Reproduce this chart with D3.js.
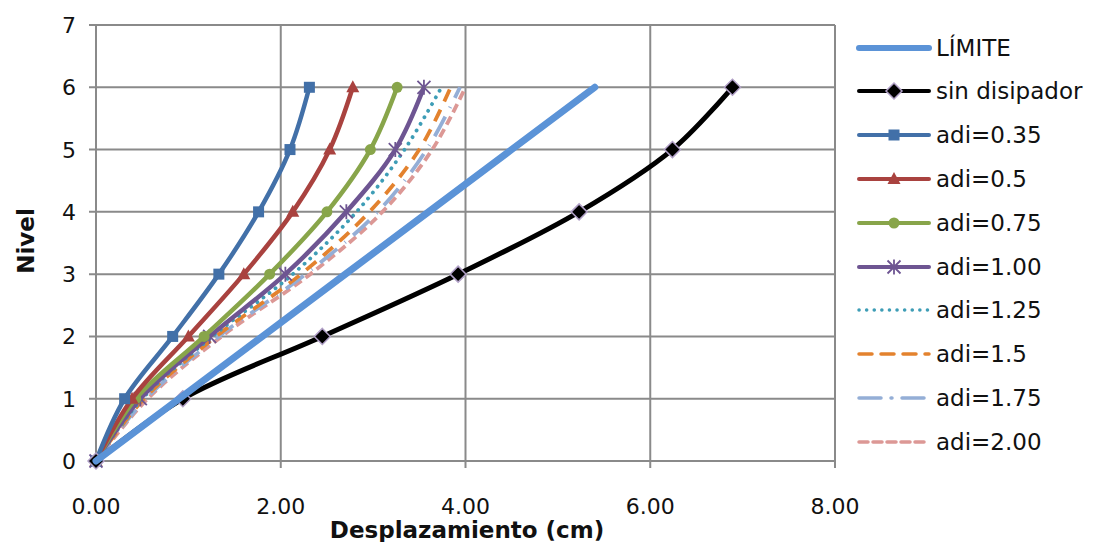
<!DOCTYPE html>
<html><head><meta charset="utf-8">
<script src="https://cdn.jsdelivr.net/npm/d3@7"></script>
<style>body{margin:0;background:#fff;} text{font-family:"DejaVu Sans",sans-serif;}</style>
</head><body>
<svg id="c" width="1097" height="542"></svg>
<script>
const levels = [0,1,2,3,4,5,6];
const xTicks = [0,2,4,6,8];
const yTicks = [0,1,2,3,4,5,6,7];
const limite = [0,0.9,1.8,2.7,3.6,4.5,5.4];
const sinDisipador = [0,0.94,2.45,3.92,5.23,6.24,6.89];
const adi035 = [0,0.31,0.83,1.33,1.76,2.10,2.31];
const adi050 = [0,0.39,1.0,1.60,2.13,2.53,2.78];
const adi075 = [0,0.43,1.17,1.88,2.50,2.97,3.26];
const adi100 = [0,0.48,1.23,2.05,2.71,3.24,3.55];
const adi125 = [0,0.50,1.26,2.13,2.82,3.34,3.74];
const adi150 = [0,0.52,1.30,2.22,2.96,3.50,3.84];
const adi175 = [0,0.54,1.33,2.27,3.05,3.58,3.94];
const adi200 = [0,0.56,1.36,2.32,3.10,3.64,4.00];
const seriesNames = ["LÍMITE","sin disipador","adi=0.35","adi=0.5","adi=0.75","adi=1.00","adi=1.25","adi=1.5","adi=1.75","adi=2.00"];

const series = [
 {name:seriesNames[0], vals:limite, color:"#5b93d7", w:7, dash:null, marker:null, smooth:false},
 {name:seriesNames[1], vals:sinDisipador, color:"#000000", w:5, dash:null, marker:"diamond"},
 {name:seriesNames[2], vals:adi035, color:"#4270a8", w:4.5, dash:null, marker:"square"},
 {name:seriesNames[3], vals:adi050, color:"#a9423f", w:4.5, dash:null, marker:"triangle"},
 {name:seriesNames[4], vals:adi075, color:"#88a54a", w:4.5, dash:null, marker:"circle"},
 {name:seriesNames[5], vals:adi100, color:"#6e5592", w:4.5, dash:null, marker:"star"},
 {name:seriesNames[6], vals:adi125, color:"#3e9db6", w:3.8, dash:"0.1,7.5", cap:"round", marker:null},
 {name:seriesNames[7], vals:adi150, color:"#e3822e", w:3.8, dash:"13,9", marker:null},
 {name:seriesNames[8], vals:adi175, color:"#94aed6", w:3.8, dash:"22,10,1,10", marker:null},
 {name:seriesNames[9], vals:adi200, color:"#dc9895", w:3.8, dash:"9,5", marker:null}
];

const svg = d3.select("#c");
const L=96, R=835, T=25, B=461;
const x = d3.scaleLinear().domain([0,8]).range([L,R]);
const y = d3.scaleLinear().domain([0,7]).range([B,T]);
const grid = "#8a8a8a";

svg.append("g").selectAll("line").data(yTicks).join("line")
  .attr("x1",L-7).attr("x2",R).attr("y1",d=>y(d)).attr("y2",d=>y(d))
  .attr("stroke",grid).attr("stroke-width",2);
svg.append("g").selectAll("line").data(xTicks).join("line")
  .attr("x1",d=>x(d)).attr("x2",d=>x(d)).attr("y1",T).attr("y2",B+7)
  .attr("stroke",grid).attr("stroke-width",2);

svg.append("g").selectAll("text").data(yTicks).join("text")
  .attr("x",76).attr("y",d=>y(d)+8).attr("text-anchor","end")
  .attr("font-size",22).attr("fill","#111").text(d=>d);
svg.append("g").selectAll("text").data(xTicks).join("text")
  .attr("x",d=>x(d)).attr("y",514).attr("text-anchor","middle")
  .attr("font-size",22).attr("fill","#111").text(d=>d3.format(".2f")(d));

svg.append("text").attr("x",467).attr("y",538).attr("text-anchor","middle")
  .attr("font-size",23).attr("font-weight","bold").attr("fill","#111").text("Desplazamiento (cm)");
svg.append("text").attr("transform","translate(34,241) rotate(-90)").attr("text-anchor","middle")
  .attr("font-size",23).attr("font-weight","bold").attr("fill","#111").text("Nivel");

const line = d3.line().x(d=>x(d[0])).y(d=>y(d[1])).curve(d3.curveCatmullRom.alpha(0.5));
const straight = d3.line().x(d=>x(d[0])).y(d=>y(d[1]));

function drawMarker(g, type, cx, cy, s){
  if(type==="diamond"){
    g.append("path").attr("d",`M${cx},${cy-8}L${cx+8},${cy}L${cx},${cy+8}L${cx-8},${cy}Z`)
     .attr("fill","#000").attr("stroke","#b1a0c7").attr("stroke-width",1.5);
  } else if(type==="square"){
    g.append("rect").attr("x",cx-5.5).attr("y",cy-5.5).attr("width",11).attr("height",11).attr("fill",s.color);
  } else if(type==="triangle"){
    g.append("path").attr("d",`M${cx},${cy-7}L${cx+6.5},${cy+5}L${cx-6.5},${cy+5}Z`).attr("fill",s.color);
  } else if(type==="circle"){
    g.append("circle").attr("cx",cx).attr("cy",cy).attr("r",5.5).attr("fill",s.color);
  } else if(type==="star"){
    const r=6.5;
    g.append("path").attr("d",`M${cx-r},${cy-r}L${cx+r},${cy+r}M${cx-r},${cy+r}L${cx+r},${cy-r}M${cx},${cy-r-1}L${cx},${cy+r+1}`)
     .attr("stroke",s.color).attr("stroke-width",1.8).attr("fill","none");
  }
}

series.slice().reverse().forEach((s,ri)=>{
  const i = series.length-1-ri;
  const pts = levels.map((lv,k)=>[s.vals[k],lv]);
  const g = svg.append("g");
  g.append("path").attr("d",(s.smooth===false?straight:line)(pts))
   .attr("fill","none").attr("stroke",s.color).attr("stroke-width",s.w)
   .attr("stroke-dasharray",s.dash).attr("stroke-linecap",s.cap||(i===0?"round":"butt"))
   .attr("stroke-linejoin","round");
  if(s.marker) pts.forEach(p=>drawMarker(g,s.marker,x(p[0]),y(p[1]),s));
});

const lg = svg.append("g");
const rowY = [48,91,135,179,223,267,310,354,398,442];
series.forEach((s,i)=>{
  const yy = rowY[i];
  lg.append("line").attr("x1",859).attr("x2",929).attr("y1",yy).attr("y2",yy)
    .attr("stroke",s.color).attr("stroke-width",i===0?6:(s.dash?3.5:4))
    .attr("stroke-dasharray",s.dash).attr("stroke-linecap","round");
  if(s.marker) drawMarker(lg,s.marker,894,yy,s);
  lg.append("text").attr("x",936).attr("y",yy+8).attr("font-size",23).attr("fill","#111").text(s.name);
});
</script>
</body></html>
